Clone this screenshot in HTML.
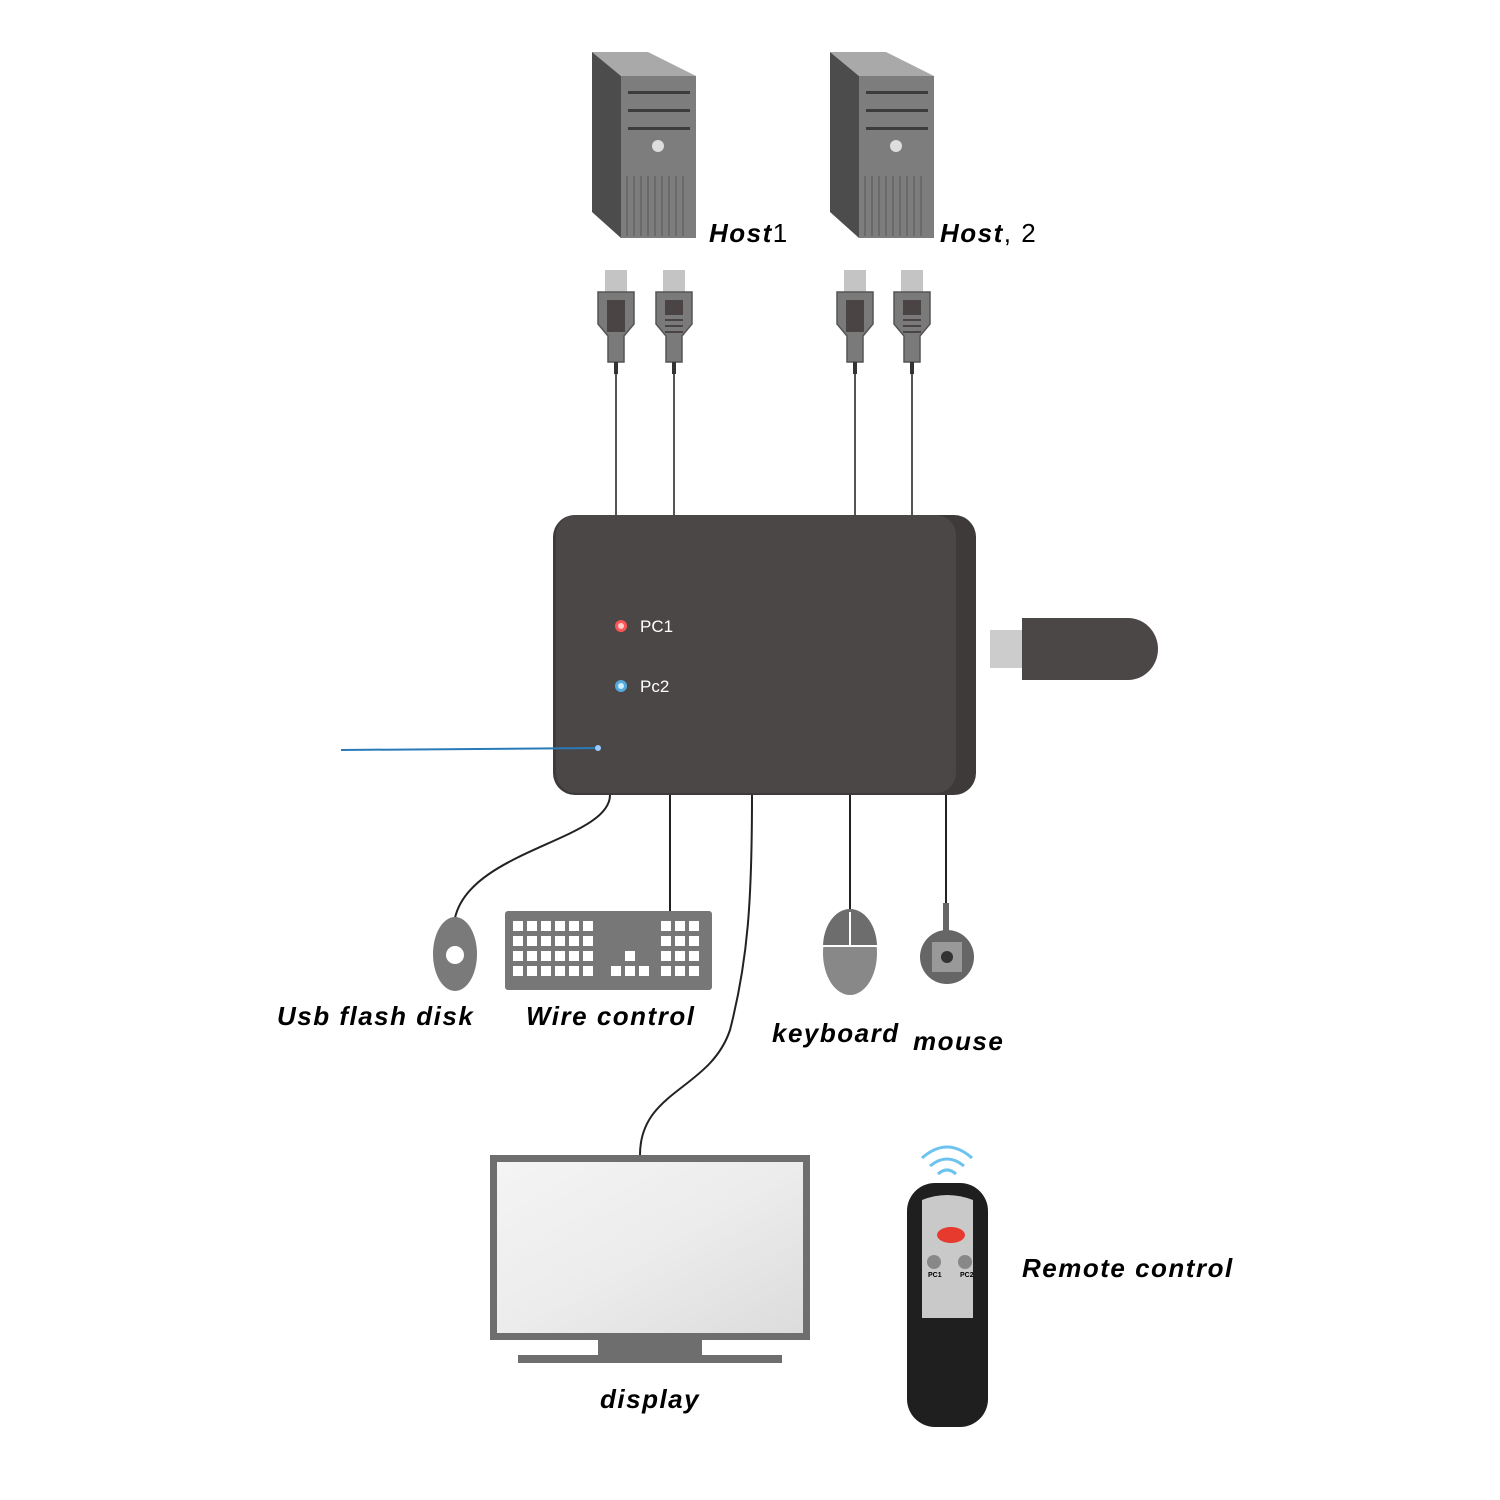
<!DOCTYPE html>
<html><head><meta charset="utf-8"><style>body{margin:0;background:#fff}svg{display:block}text{font-family:"Liberation Sans",sans-serif}.lb{letter-spacing:1.5px}</style></head><body>
<svg width="1500" height="1500" viewBox="0 0 1500 1500" xmlns="http://www.w3.org/2000/svg">
<defs>
<linearGradient id="scr" x1="0" y1="0" x2="1" y2="1"><stop offset="0" stop-color="#f4f4f4"/><stop offset="0.5" stop-color="#ececec"/><stop offset="1" stop-color="#dcdcdc"/></linearGradient>
<g id="tower">
<polygon points="592,52 648,52 696,76 621,76" fill="#a9a9a9"/>
<polygon points="592,52 621,76 621,238 592,212" fill="#4c4c4c"/>
<rect x="621" y="76" width="75" height="162" fill="#7d7d7d"/>
<rect x="628" y="91" width="62" height="3" fill="#3c3c3c"/>
<rect x="628" y="109" width="62" height="3" fill="#3c3c3c"/>
<rect x="628" y="127" width="62" height="3" fill="#3c3c3c"/>
<circle cx="658" cy="146" r="6" fill="#ddd"/>
<g fill="#6a6a6a"><rect x="626" y="176" width="2" height="60"/><rect x="633" y="176" width="2" height="60"/><rect x="640" y="176" width="2" height="60"/><rect x="647" y="176" width="2" height="60"/><rect x="654" y="176" width="2" height="60"/><rect x="661" y="176" width="2" height="60"/><rect x="668" y="176" width="2" height="60"/><rect x="675" y="176" width="2" height="60"/><rect x="682" y="176" width="2" height="60"/></g>
</g>
<g id="plug">
<rect x="-11" y="270" width="22" height="22" fill="#c4c4c4"/>
<path d="M-18,292 H18 V324 L8,336 V362 H-8 V336 L-18,324 Z" fill="#7a7a7a" stroke="#555" stroke-width="1.5"/>
<rect x="-2" y="362" width="4" height="12" fill="#333"/>
<line x1="0" y1="374" x2="0" y2="515" stroke="#555" stroke-width="2"/>
</g>
</defs>
<use href="#tower"/>
<use href="#tower" x="238"/>
<text x="709" y="242" font-size="26" font-weight="bold" font-style="italic" class="lb">Host<tspan font-weight="normal" font-style="normal">1</tspan></text>
<text x="940" y="242" font-size="26" font-weight="bold" font-style="italic" class="lb">Host<tspan font-weight="normal" font-style="normal">, 2</tspan></text>
<use href="#plug" x="616"/>
<rect x="607" y="300" width="18" height="32" fill="#4a4444"/>
<use href="#plug" x="674"/>
<rect x="665" y="300" width="18" height="15" fill="#4a4444"/>
<g stroke="#4a4444" stroke-width="2"><line x1="665" y1="320" x2="683" y2="320"/><line x1="665" y1="326" x2="683" y2="326"/><line x1="665" y1="332" x2="683" y2="332"/></g>
<use href="#plug" x="855"/>
<rect x="846" y="300" width="18" height="32" fill="#4a4444"/>
<use href="#plug" x="912"/>
<rect x="903" y="300" width="18" height="15" fill="#4a4444"/>
<g stroke="#4a4444" stroke-width="2"><line x1="903" y1="320" x2="921" y2="320"/><line x1="903" y1="326" x2="921" y2="326"/><line x1="903" y1="332" x2="921" y2="332"/></g>

<rect x="553" y="515" width="423" height="280" rx="22" fill="#3e3a3a"/>
<rect x="556" y="515" width="400" height="278" rx="20" fill="#4b4747"/>
<circle cx="621" cy="626" r="6" fill="#f55"/><circle cx="621" cy="626" r="3" fill="#fcc"/>
<circle cx="621" cy="686" r="6" fill="#5ad"/><circle cx="621" cy="686" r="3" fill="#cef"/>
<text x="640" y="632" font-size="17" fill="#fff">PC1</text>
<text x="640" y="692" font-size="17" fill="#fff">Pc2</text>
<line x1="341" y1="750" x2="598" y2="748" stroke="#2a7ab8" stroke-width="2"/>
<circle cx="598" cy="748" r="3" fill="#9cf"/>
<rect x="990" y="630" width="36" height="38" fill="#ccc"/>
<path d="M1022,618 H1128 A30,31 0 0 1 1128,680 H1022 Z" fill="#4b4747"/>

<g fill="none" stroke="#222" stroke-width="2">
<path d="M610,795 C610,840 470,850 455,918"/>
<line x1="670" y1="795" x2="670" y2="912"/>
<path d="M752,795 C752,900 748,960 730,1030 C710,1090 640,1090 640,1155"/>
<line x1="850" y1="795" x2="850" y2="912"/>
<line x1="946" y1="795" x2="946" y2="905"/>
</g>
<ellipse cx="455" cy="954" rx="22" ry="37" fill="#7a7a7a"/>
<circle cx="455" cy="955" r="9" fill="#fff"/>
<rect x="505" y="911" width="207" height="79" rx="3" fill="#777"/>
<g fill="#fff">
<g id="krow"><rect x="513" y="921" width="10" height="10"/><rect x="527" y="921" width="10" height="10"/><rect x="541" y="921" width="10" height="10"/><rect x="555" y="921" width="10" height="10"/><rect x="569" y="921" width="10" height="10"/><rect x="583" y="921" width="10" height="10"/><rect x="661" y="921" width="10" height="10"/><rect x="675" y="921" width="10" height="10"/><rect x="689" y="921" width="10" height="10"/></g>
<use href="#krow" y="15"/><use href="#krow" y="30"/><use href="#krow" y="45"/>
<rect x="625" y="951" width="10" height="10"/><rect x="611" y="966" width="10" height="10"/><rect x="625" y="966" width="10" height="10"/><rect x="639" y="966" width="10" height="10"/>
</g>
<ellipse cx="850" cy="953" rx="27" ry="42" fill="#888"/>
<path d="M823,947 A27,38 0 0 1 877,947 Z" fill="#6d6d6d"/>
<line x1="823" y1="946" x2="877" y2="946" stroke="#fff" stroke-width="2"/>
<line x1="850" y1="912" x2="850" y2="946" stroke="#fff" stroke-width="2"/>
<rect x="943" y="903" width="6" height="30" fill="#666"/>
<circle cx="947" cy="957" r="27" fill="#666"/>
<rect x="932" y="942" width="30" height="30" fill="#999"/>
<circle cx="947" cy="957" r="6" fill="#333"/>

<text x="277" y="1025" font-size="26" font-weight="bold" font-style="italic" class="lb">Usb flash disk</text>
<text x="526" y="1025" font-size="26" font-weight="bold" font-style="italic" class="lb">Wire control</text>
<text x="772" y="1042" font-size="26" font-weight="bold" font-style="italic" class="lb">keyboard</text>
<text x="913" y="1050" font-size="26" font-weight="bold" font-style="italic" class="lb">mouse</text>

<rect x="490" y="1155" width="320" height="185" fill="#6e6e6e"/>
<rect x="497" y="1162" width="306" height="171" fill="url(#scr)"/>
<rect x="598" y="1340" width="104" height="15" fill="#6e6e6e"/>
<rect x="518" y="1355" width="264" height="8" fill="#6e6e6e"/>
<text x="600" y="1408" font-size="26" font-weight="bold" font-style="italic" class="lb">display</text>

<g fill="none" stroke="#6cc3ee" stroke-width="3">
<path d="M922,1158 Q947,1136 972,1158"/><path d="M930,1166 Q947,1152 964,1166"/><path d="M938,1174 Q947,1166 956,1174"/>
</g>
<rect x="907" y="1183" width="81" height="244" rx="28" fill="#1f1f1f"/>
<path d="M922,1200 Q947,1190 973,1200 V1318 H922 Z" fill="#c9c9c9"/>
<ellipse cx="951" cy="1235" rx="14" ry="8" fill="#e63a2e"/>
<circle cx="934" cy="1262" r="7" fill="#888"/><circle cx="965" cy="1262" r="7" fill="#888"/>
<text x="928" y="1277" font-size="7" font-weight="bold">PC1</text><text x="960" y="1277" font-size="7" font-weight="bold">PC2</text>
<text x="1022" y="1277" font-size="26" font-weight="bold" font-style="italic" class="lb">Remote control</text>
</svg>
</body></html>
